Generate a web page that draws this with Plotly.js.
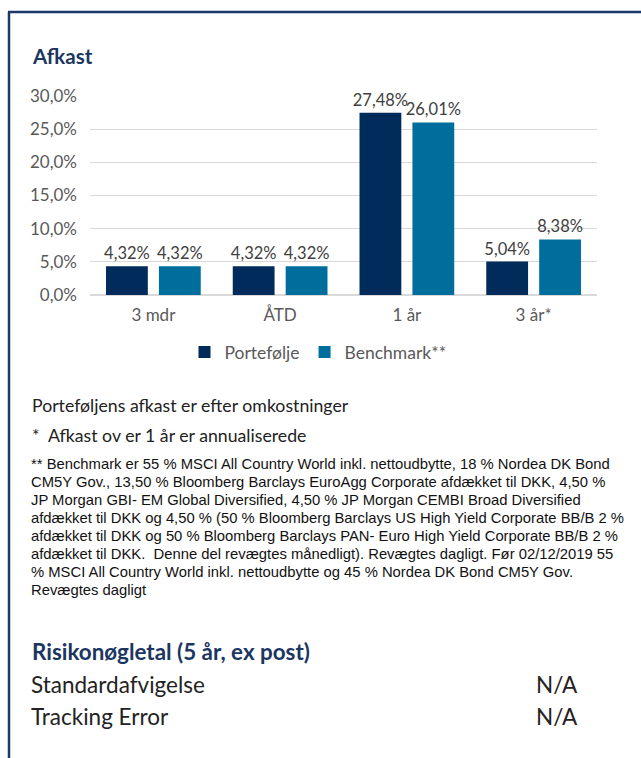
<!DOCTYPE html>
<html>
<head>
<meta charset="utf-8">
<script src="https://cdn.plot.ly/plotly-3.0.1.min.js"></script>
<style>
html,body{margin:0;padding:0;background:#fff;}
#chart{width:641px;height:758px;}
</style>
</head>
<body>
<div id="chart"></div>
<script>
// ---- data ----
const categories = ["3 mdr", "ÅTD", "1 år", "3 år*"];
const portfolioValues = [4.32, 4.32, 27.48, 5.04];
const benchmarkValues = [4.32, 4.32, 26.01, 8.38];
const seriesNames = ["Portefølje", "Benchmark**"];
const yTickValues = [0, 5, 10, 15, 20, 25, 30];
const yTickLabels = ["0,0%", "5,0%", "10,0%", "15,0%", "20,0%", "25,0%", "30,0%"];

const chartTitle = "Afkast";
const noteLines = [
  "Porteføljens afkast er efter omkostninger",
  "*  Afkast ov er 1 år er annualiserede"
];
const footnoteLines = [
  "** Benchmark er 55 % MSCI All Country World inkl. nettoudbytte, 18 % Nordea DK Bond",
  "CM5Y Gov., 13,50 % Bloomberg Barclays EuroAgg Corporate afdækket til DKK, 4,50 %",
  "JP Morgan GBI- EM Global Diversified, 4,50 % JP Morgan CEMBI Broad Diversified",
  "afdækket til DKK og 4,50 % (50 % Bloomberg Barclays US High Yield Corporate BB/B 2 %",
  "afdækket til DKK og 50 % Bloomberg Barclays PAN- Euro High Yield Corporate BB/B 2 %",
  "afdækket til DKK.  Denne del revægtes månedligt). Revægtes dagligt. Før 02/12/2019 55",
  "% MSCI All Country World inkl. nettoudbytte og 45 % Nordea DK Bond CM5Y Gov.",
  "Revægtes dagligt"
];
const riskTitle = "Risikonøgletal (5 år, ex post)";
const riskLabels = ["Standardafvigelse", "Tracking Error"];
const riskValues = ["N/A", "N/A"];

// ---- layout helpers ----
const W = 641, H = 758;
const L = 90, R = 597, T = 96, B = 295;
const px = x => (x - L) / (R - L);
const py = y => (B - y) / (B - T);

const navy = "#1B3661";
const dark = "#002B5B";
const teal = "#006E9D";
const gothic = "Lato, 'Open Sans', sans-serif";
const arial = "'Liberation Sans', Arial, sans-serif";
const labelFont = {family: gothic, size: 16.5, color: "#404040"};

const traces = [
  {type: "bar", name: seriesNames[0], x: categories, y: portfolioValues,
   marker: {color: dark}, texttemplate: "%{y:.2f}%", textposition: "outside", constraintext: "none",
   textfont: labelFont, cliponaxis: false, hoverinfo: "none"},
  {type: "bar", name: seriesNames[1], x: categories, y: benchmarkValues,
   marker: {color: teal}, texttemplate: "%{y:.2f}%", textposition: "outside", constraintext: "none",
   textfont: labelFont, cliponaxis: false, hoverinfo: "none"}
];

const ann = [];
function addText(text, x, y, font, xanchor) {
  ann.push({text: text, xref: "paper", yref: "paper", x: px(x), y: py(y),
    xanchor: xanchor || "left", yanchor: "middle", showarrow: false, font: font, align: "left"});
}
addText("<b>" + chartTitle + "</b>", 30, 56, {family: gothic, size: 20.5, color: navy});
addText(noteLines[0], 30, 405, {family: gothic, size: 17.7, color: "#222"});
addText(noteLines[1], 30, 435, {family: gothic, size: 17.7, color: "#222"});
footnoteLines.forEach((t, i) => addText(t, 29, 463.5 + i * 18.1, {family: arial, size: 14.8, color: "#111"}));
addText("<b>" + riskTitle + "</b>", 30, 651, {family: gothic, size: 22.4, color: navy});
riskLabels.forEach((t, i) => {
  addText(t, 29, 684 + i * 32, {family: gothic, size: 22.5, color: "#222"});
  addText(riskValues[i], 534, 684 + i * 32, {family: gothic, size: 22.5, color: "#222"});
});

const frameColor = "#1B3A6B";
const shapes = [
  {type: "line", xref: "paper", yref: "paper", x0: px(9), x1: px(9), y0: py(12), y1: py(770),
   line: {color: frameColor, width: 2.5}},
  {type: "line", xref: "paper", yref: "paper", x0: px(8), x1: px(660), y0: py(12), y1: py(12),
   line: {color: frameColor, width: 2.5}}
];

const layout = {
  width: W, height: H,
  margin: {l: L, r: W - R, t: T, b: H - B, pad: 0},
  paper_bgcolor: "#fff", plot_bgcolor: "#fff",
  separators: ", ",
  barmode: "group", bargap: 0.165, bargroupgap: 0.21,
  showlegend: true,
  legend: {orientation: "h", x: px(318), y: py(352), xanchor: "center", yanchor: "middle",
    font: {family: gothic, size: 17.5, color: "#595959"}, itemwidth: 30, traceorder: "normal"},
  xaxis: {tickfont: {family: gothic, size: 17, color: "#595959"}, showgrid: false,
    showline: false, ticks: "", ticklabelstandoff: 8, fixedrange: true},
  yaxis: {range: [0, 30], tickvals: yTickValues, ticktext: yTickLabels,
    tickfont: {family: gothic, size: 17, color: "#595959"},
    gridcolor: "#D9D9D9", gridwidth: 1.3, zeroline: true, zerolinecolor: "#D9D9D9", zerolinewidth: 1.3,
    showline: false, ticks: "", ticklabelstandoff: 12, fixedrange: true},
  annotations: ann,
  shapes: shapes
};

Plotly.newPlot("chart", traces, layout, {displayModeBar: false, staticPlot: true});
</script>
</body>
</html>
